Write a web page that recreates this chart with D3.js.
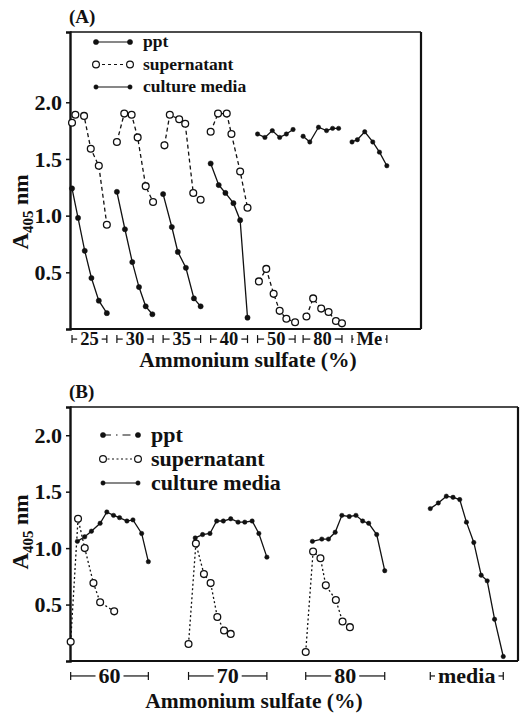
<!DOCTYPE html>
<html>
<head>
<meta charset="utf-8">
<script src="https://cdn.jsdelivr.net/npm/d3@7"></script>
<style>
  body { margin: 0; background: #fff; }
  svg text { font-family: "Liberation Serif", "DejaVu Serif", serif; font-weight: bold; fill: #111; }
</style>
</head>
<body>
<svg id="chart" width="520" height="714"></svg>
<script>
// ---- data (x = tube position within the run, y = A405) ----
const yTicks = [0.5, 1.0, 1.5, 2.0];
const legendLabels = ["ppt", "supernatant", "culture media"];

// panel A
const aGroups = ["25", "30", "35", "40", "50", "80", "Me"];
const aPpt25 = [[0.3, 1.24], [1.2, 0.98], [2.2, 0.69], [3.2, 0.45], [4.3, 0.25], [5.5, 0.14]];
const aPpt30 = [[7.0, 1.21], [8.2, 0.88], [9.3, 0.59], [10.3, 0.37], [11.3, 0.20], [12.3, 0.13]];
const aPpt35 = [[13.9, 1.19], [15.2, 0.90], [16.1, 0.68], [17.3, 0.54], [18.5, 0.27], [19.5, 0.20]];
const aPpt40 = [[21.0, 1.46], [22.2, 1.27], [23.2, 1.20], [24.4, 1.11], [25.4, 0.96], [26.5, 0.10]];
const aSup25 = [[0.3, 1.82], [0.8, 1.89], [2.1, 1.88], [3.1, 1.59], [4.3, 1.44], [5.5, 0.92]];
const aSup30 = [[7.0, 1.65], [8.1, 1.90], [9.2, 1.89], [10.1, 1.69], [11.3, 1.26], [12.4, 1.12]];
const aSup35 = [[14.1, 1.62], [14.9, 1.89], [16.3, 1.85], [17.2, 1.81], [18.4, 1.20], [19.5, 1.14]];
const aSup40 = [[21.0, 1.74], [22.1, 1.90], [23.4, 1.90], [24.1, 1.72], [25.4, 1.39], [26.5, 1.07]];
const aSup50 = [[28.2, 0.42], [29.3, 0.53], [30.4, 0.31], [31.3, 0.16], [32.3, 0.09], [33.6, 0.06]];
const aSup80 = [[35.3, 0.11], [36.3, 0.27], [37.5, 0.18], [38.6, 0.15], [39.7, 0.07], [40.6, 0.05]];
const aMed50 = [[28.0, 1.72], [29.1, 1.69], [30.2, 1.75], [31.3, 1.69], [32.3, 1.72], [33.3, 1.76]];
const aMed80 = [[34.8, 1.70], [35.8, 1.65], [37.1, 1.78], [38.3, 1.75], [39.2, 1.77], [40.1, 1.77]];
const aMedMe = [[42.1, 1.65], [42.9, 1.67], [44.0, 1.74], [45.2, 1.65], [46.2, 1.56], [47.3, 1.44]];

// panel B
const bGroups = ["60", "70", "80", "media"];
const bSup60 = [[0.1, 0.17], [1.2, 1.26], [2.2, 1.00], [3.5, 0.69], [4.5, 0.52], [6.6, 0.44]];
const bSup70 = [[17.7, 0.15], [18.8, 1.04], [20.0, 0.77], [21.0, 0.69], [22.0, 0.39], [23.0, 0.27], [24.0, 0.24]];
const bSup80 = [[35.2, 0.08], [36.3, 0.97], [37.4, 0.91], [38.2, 0.67], [39.7, 0.54], [40.7, 0.35], [41.8, 0.30]];
const bMed60 = [[1.1, 1.06], [2.2, 1.10], [3.2, 1.15], [4.5, 1.22], [5.5, 1.32], [6.5, 1.29], [7.4, 1.27], [8.5, 1.24], [9.4, 1.25], [10.7, 1.13], [11.7, 0.88]];
const bMed70 = [[18.7, 1.09], [19.8, 1.12], [20.9, 1.13], [21.9, 1.24], [22.9, 1.24], [24.0, 1.26], [25.1, 1.23], [26.1, 1.23], [27.2, 1.24], [28.2, 1.13], [29.4, 0.92]];
const bMed80 = [[36.2, 1.06], [37.6, 1.08], [38.6, 1.08], [39.6, 1.14], [40.6, 1.29], [41.7, 1.28], [42.7, 1.29], [43.7, 1.24], [44.6, 1.22], [45.8, 1.12], [47.0, 0.80]];
const bMedMedia = [[53.8, 1.35], [55.0, 1.40], [56.2, 1.46], [57.2, 1.45], [58.2, 1.43], [59.2, 1.23], [60.3, 1.05], [61.4, 0.76], [62.3, 0.71], [63.4, 0.37], [64.7, 0.04]];

const svg = d3.select('#chart');

const styles = {
    ppt: { r: 2.6, fill: '#111' },
    sup: { r: 3.4, fill: '#fff' },
    med: { r: 2.2, fill: '#111' }
};

function drawPanel(p) {
    const g = svg.append('g');
    const x = d3.scaleLinear().domain(p.xDomain).range([p.left, p.right]);
    const y = d3.scaleLinear().domain(p.yDomain).range([p.bottom, p.top]);

    // panel letter
    g.append('text').attr('x', p.left - 1).attr('y', p.top - 9)
        .attr('font-size', 19).text(p.title);

    // frame
    g.append('line').attr('x1', p.left).attr('x2', p.right).attr('y1', p.top).attr('y2', p.top)
        .attr('stroke', '#111').attr('stroke-width', 1.6);
    g.append('line').attr('x1', p.right).attr('x2', p.right).attr('y1', p.top).attr('y2', p.bottom)
        .attr('stroke', '#111').attr('stroke-width', 2.2);
    g.append('line').attr('x1', p.left).attr('x2', p.right).attr('y1', p.bottom).attr('y2', p.bottom)
        .attr('stroke', '#111').attr('stroke-width', 2.2);

    // y axis
    const yAxis = g.append('g').attr('transform', `translate(${p.left},0)`)
        .call(d3.axisLeft(y).tickValues(yTicks).tickFormat(d3.format('.1f')).tickSize(4).tickPadding(4));
    yAxis.select('.domain').attr('stroke', '#111').attr('stroke-width', 2.4);
    yAxis.selectAll('.tick line').attr('stroke', '#111').attr('stroke-width', 1.5);
    yAxis.selectAll('.tick text').attr('font-size', 22).attr('font-family', null).attr('fill', '#111');

    // y label
    const yl = g.append('text')
        .attr('transform', `translate(${p.yLabelX},${p.yLabelY}) rotate(-90)`)
        .attr('text-anchor', 'middle').attr('font-size', 23);
    yl.append('tspan').text('A');
    yl.append('tspan').attr('font-size', 15).attr('dy', 5).text('405');
    yl.append('tspan').attr('font-size', 22).attr('dy', -5).text(' nm');

    // series
    const line = d3.line().x(d => x(d[0])).y(d => y(d[1]));
    p.series.forEach(s => {
        const st = styles[s.kind];
        g.append('path').datum(s.pts)
            .attr('d', line).attr('fill', 'none').attr('stroke', '#111')
            .attr('stroke-width', 1.3)
            .attr('stroke-dasharray', s.kind === 'sup' ? p.supDash : null);
        g.selectAll(null).data(s.pts).enter().append('circle')
            .attr('cx', d => x(d[0])).attr('cy', d => y(d[1]))
            .attr('r', st.r).attr('fill', st.fill)
            .attr('stroke', '#111').attr('stroke-width', s.kind === 'sup' ? 1.3 : 0.5);
    });

    // group brackets under the axis
    p.groups.forEach(name => {
        const pts = p.series.filter(s => s.group === name).flatMap(s => s.pts);
        const x0 = x(d3.min(pts, d => d[0]));
        const x1 = x(d3.max(pts, d => d[0]));
        const cx = (x0 + x1) / 2;
        const t = g.append('text').attr('x', cx).attr('y', p.groupY)
            .attr('text-anchor', 'middle').attr('font-size', p.groupFont).text(name);
        const w = t.node().getComputedTextLength();
        const ly = p.groupY - p.groupFont * 0.32;
        [[x0, cx - w / 2 - 3], [cx + w / 2 + 3, x1]].forEach(([a, b]) => {
            g.append('line').attr('x1', a).attr('x2', Math.max(a, b)).attr('y1', ly).attr('y2', ly)
                .attr('stroke', '#111').attr('stroke-width', 1.2);
        });
        [x0, x1].forEach(xx => {
            g.append('line').attr('x1', xx).attr('x2', xx).attr('y1', ly - 4).attr('y2', ly + 4)
                .attr('stroke', '#111').attr('stroke-width', 1.2);
        });
    });

    // x title
    g.append('text').attr('x', p.xTitleX).attr('y', p.xTitleY)
        .attr('text-anchor', 'middle').attr('font-size', 21.5).text('Ammonium sulfate (%)');

    // legend
    legendLabels.forEach((lab, i) => {
        const ly = p.legendY + i * p.legendStep;
        const kind = ['ppt', 'sup', 'med'][i];
        const st = styles[kind];
        g.append('line').attr('x1', p.legendX).attr('x2', p.legendX + p.legendLen)
            .attr('y1', ly).attr('y2', ly).attr('stroke', '#111').attr('stroke-width', 1.2)
            .attr('stroke-dasharray', p.legendDash[i]);
        [p.legendX, p.legendX + p.legendLen].forEach(cx => {
            g.append('circle').attr('cx', cx).attr('cy', ly).attr('r', st.r)
                .attr('fill', st.fill).attr('stroke', '#111').attr('stroke-width', kind === 'sup' ? 1.2 : 0.5);
        });
        g.append('text').attr('x', p.legendX + p.legendLen + 13).attr('y', ly + p.legendFont * 0.3)
            .attr('font-size', p.legendFont).text(lab);
    });
}

drawPanel({
    title: '(A)', left: 70, right: 421, top: 32, bottom: 329,
    xDomain: [0, 52.4], yDomain: [0, 2.62],
    yLabelX: 28, yLabelY: 212,
    groups: aGroups, groupY: 345, groupFont: 18.5,
    xTitleX: 248, xTitleY: 367,
    supDash: '4,3',
    legendX: 96, legendLen: 34, legendY: 42, legendStep: 22.5, legendFont: 17.5,
    legendDash: [null, '3,3', null],
    series: [
        { group: '25', kind: 'ppt', pts: aPpt25 }, { group: '25', kind: 'sup', pts: aSup25 },
        { group: '30', kind: 'ppt', pts: aPpt30 }, { group: '30', kind: 'sup', pts: aSup30 },
        { group: '35', kind: 'ppt', pts: aPpt35 }, { group: '35', kind: 'sup', pts: aSup35 },
        { group: '40', kind: 'ppt', pts: aPpt40 }, { group: '40', kind: 'sup', pts: aSup40 },
        { group: '50', kind: 'sup', pts: aSup50 }, { group: '50', kind: 'med', pts: aMed50 },
        { group: '80', kind: 'sup', pts: aSup80 }, { group: '80', kind: 'med', pts: aMed80 },
        { group: 'Me', kind: 'med', pts: aMedMe }
    ]
});

drawPanel({
    title: '(B)', left: 70, right: 518, top: 407, bottom: 661,
    xDomain: [0, 66.9], yDomain: [0, 2.25],
    yLabelX: 28, yLabelY: 532,
    groups: bGroups, groupY: 683, groupFont: 22,
    xTitleX: 254, xTitleY: 708,
    supDash: '2,2.5',
    legendX: 103, legendLen: 35, legendY: 435, legendStep: 24, legendFont: 22,
    legendDash: ['8,5,1.5,5', '2,2.5', null],
    series: [
        { group: '60', kind: 'sup', pts: bSup60 }, { group: '60', kind: 'med', pts: bMed60 },
        { group: '70', kind: 'sup', pts: bSup70 }, { group: '70', kind: 'med', pts: bMed70 },
        { group: '80', kind: 'sup', pts: bSup80 }, { group: '80', kind: 'med', pts: bMed80 },
        { group: 'media', kind: 'med', pts: bMedMedia }
    ]
});
</script>
</body>
</html>
